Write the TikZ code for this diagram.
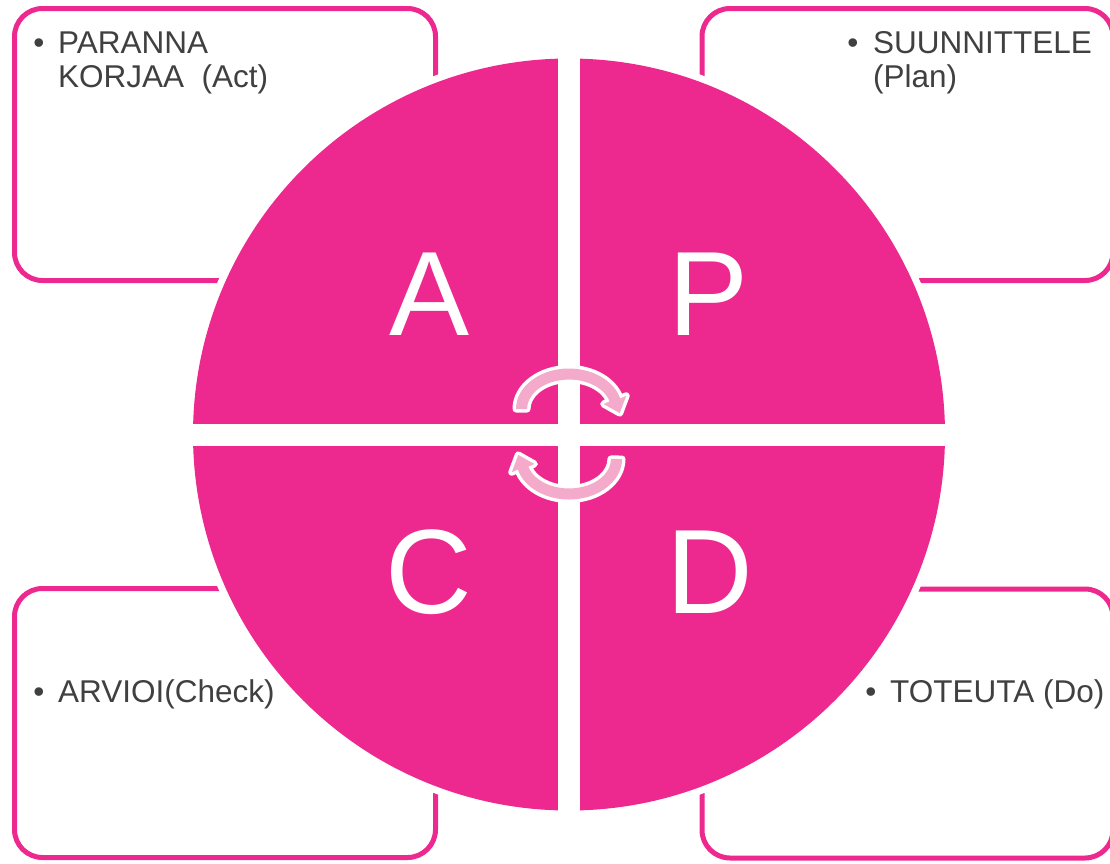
\documentclass[tikz,border=0pt]{standalone}
\usepackage{fontspec}
\setmainfont{Liberation Sans}
\definecolor{mag}{RGB}{237,41,143}
\definecolor{lpink}{RGB}{244,170,203}
\definecolor{txt}{RGB}{64,64,64}
\begin{document}
\begin{tikzpicture}[x=1pt,y=-1pt,
  box/.style={draw=mag, line width=5pt, rounded corners=28pt, rectangle, inner sep=0pt, outer sep=0pt},
  lbl/.style={text=txt, font=\fontsize{31.5}{36}\selectfont, anchor=base west, inner sep=0pt},
  bul/.style={text=txt, font=\fontsize{31.5}{36}\selectfont, anchor=base, inner sep=0pt},
  big/.style={text=white, font=\fontsize{120}{120}\selectfont, anchor=base, inner sep=0pt},
  cycarrow/.style={insert path={(516,409) arc[start angle=180,end angle=345,x radius=53,y radius=40.5]
     -- (626.2,395.8) -- (619.7,413.1) -- (603.6,404) -- (609.6,401.4)
     arc[start angle=345,end angle=180,x radius=42,y radius=29.5] -- cycle}},
  arrout/.style={draw=white, line width=7pt, line join=round},
  arrin/.style={fill=lpink}]
\useasboundingbox (0,0) rectangle (1110,863);
\fill[white] (0,0) rectangle (1110,863);
% boxes
\node[box, minimum width=421pt, minimum height=272pt] (boxA) at (225,144.5) {};
\node[box, minimum width=411pt, minimum height=272pt] (boxP) at (907.5,144.5) {};
\node[box, minimum width=421pt, minimum height=269pt] (boxC) at (225,723) {};
\node[box, minimum width=411pt, minimum height=269pt] (boxD) at (907.5,723.5) {};
% circle
\fill[white] (569,434.5) circle (383pt);
\fill[mag] (569,434.5) circle (376pt);
\fill[white] (558,53) rectangle (580,816);
\fill[white] (187,423.5) rectangle (951,445.5);
% letters
\node[big] (A) at (430,335) {A};
\node[big] (P) at (709,335) {P};
\node[big] (C) at (429,613) {C};
\node[big] (D) at (710,613) {D};
% cycle arrows
\path[arrout, cycarrow];
\path[arrin, cycarrow];
\begin{scope}[rotate around={180:(569,434)}]
\path[arrout, cycarrow];
\path[arrin, cycarrow];
\end{scope}
% texts
\node[bul] (ab) at (39,53) {•};
\node[lbl] (a1) at (58,53) {PARANNA};
\node[lbl] (a2) at (58,87) {KORJAA\ \ (Act)};
\node[bul] (pb) at (853,53) {•};
\node[lbl] (p1) at (873,53) {SUUNNITTELE};
\node[lbl] (p2) at (873,87) {(Plan)};
\node[bul] (cb) at (39,702) {•};
\node[lbl] (c1) at (58,702) {ARVIOI(Check)};
\node[bul] (db) at (871,702) {•};
\node[lbl] (d1) at (890,702) {TOTEUTA (Do)};
\end{tikzpicture}
\end{document}
